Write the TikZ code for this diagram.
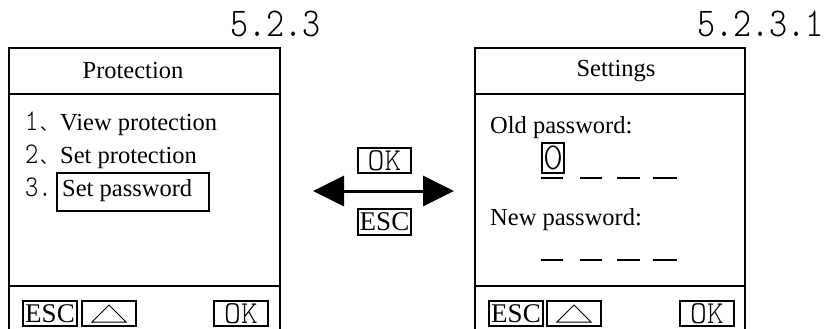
\documentclass[tikz,border=0pt]{standalone}
\usepackage{fontspec}
\setmainfont{Liberation Serif}
\newfontfamily\thin{lmmonolt10-regular.otf}
\newfontfamily\thinn[FakeStretch=0.84]{lmmonolt10-regular.otf}
\newfontfamily\cjk{Noto Sans CJK SC}
\usetikzlibrary{arrows.meta}
\begin{document}
\begin{tikzpicture}[x=1pt,y=-1pt,
  frame/.style={line width=1.2pt},
  txt/.style={anchor=base west, inner sep=0, font=\fontsize{24.5}{27}\selectfont},
  head/.style={anchor=base, inner sep=0, font=\fontsize{24.5}{27}\selectfont},
  num/.style={anchor=base west, inner sep=0, font=\thinn\fontsize{30}{30}\selectfont},
  dunhao/.style={anchor=base west, inner sep=0, font=\cjk\fontsize{17}{17}\selectfont},
  btn/.style={draw, line width=1.1pt, minimum width=54pt, minimum height=25pt, inner sep=0},
  esct/.style={font=\fontsize{27}{27}\selectfont},
  okt/.style={font=\thin\fontsize{32}{32}\selectfont},
  title/.style={anchor=base west, inner sep=0, font=\thinn\fontsize{41}{41}\selectfont},
  ul/.style={line width=1.6pt}]
\useasboundingbox (0,0) rectangle (824,329);

% ---------- left panel ----------
\node[title] (t1) at (230,37) {5.2.3};
\draw[frame] (9,329) -- (9,48) -- (280,48) -- (280,329);
\draw[frame] (9,94) -- (280,94);
\draw[frame] (9,286) -- (280,286);
\node[head] (h1) at (133,78) {Protection};
\node[num] (n1) at (25,130) {1};
\node[dunhao] (c1) at (40,130) {、};
\node[txt] (i1) at (60,130) {View protection};
\node[num] (n2) at (25,163) {2};
\node[dunhao] (c2) at (40,163) {、};
\node[txt] (i2) at (60,163) {Set protection};
\node[num] (n3) at (25,196) {3.};
\node[txt] (i3) at (62,196) {Set password};
\draw[line width=1.1pt] (57,173) rectangle (209,211);

\node[btn,esct] (esc1) at (50,313.5) {ESC};
\node[btn] (tri1) at (109,313.5) {};
\draw[line width=1pt] ([shift={(-17,8.5)}]tri1.center) -- ([shift={(17,8.5)}]tri1.center) -- ([shift={(0,-8.5)}]tri1.center) -- cycle;
\node[btn,okt] (ok1) at (241,313.5) {OK};

% ---------- middle ----------
\node[btn,okt,minimum width=53pt] (okm) at (384.5,160.5) {OK};
\node[btn,esct,minimum width=53pt,minimum height=26pt] (escm) at (384.5,222) {ESC};
\coordinate (al) at (313,191);
\coordinate (ar) at (454,191);
\draw[line width=3pt, {Triangle[length=31pt,width=30pt]}-{Triangle[length=31pt,width=30pt]}] (al) -- (ar);

% ---------- right panel ----------
\node[title] (t2) at (697,37) {5.2.3.1};
\draw[frame] (475,329) -- (475,48) -- (745,48) -- (745,329);
\draw[frame] (475,94) -- (745,94);
\draw[frame] (475,286) -- (745,286);
\node[head] (h2) at (616,77) {Settings};
\node[txt] (old) at (490,133) {Old password:};
\node[draw, line width=1.1pt, minimum width=22pt, minimum height=30pt, inner sep=0, font=\thin\fontsize{38}{38}\selectfont] (zero) at (553,158) {0};
\draw[ul] (541,178) -- (563,178);
\draw[ul] (580,178) -- (602,178);
\draw[ul] (617,178) -- (640,178);
\draw[ul] (653,178) -- (677,178);
\node[txt] (new) at (490,225) {New password:};
\draw[ul] (541,260) -- (563,260);
\draw[ul] (580,260) -- (602,260);
\draw[ul] (617,260) -- (640,260);
\draw[ul] (653,260) -- (677,260);

\node[btn,esct] (esc2) at (516,313.5) {ESC};
\node[btn] (tri2) at (574,313.5) {};
\draw[line width=1pt] ([shift={(-17,8.5)}]tri2.center) -- ([shift={(17,8.5)}]tri2.center) -- ([shift={(0,-8.5)}]tri2.center) -- cycle;
\node[btn,okt] (ok2) at (707,313.5) {OK};
\end{tikzpicture}
\end{document}
